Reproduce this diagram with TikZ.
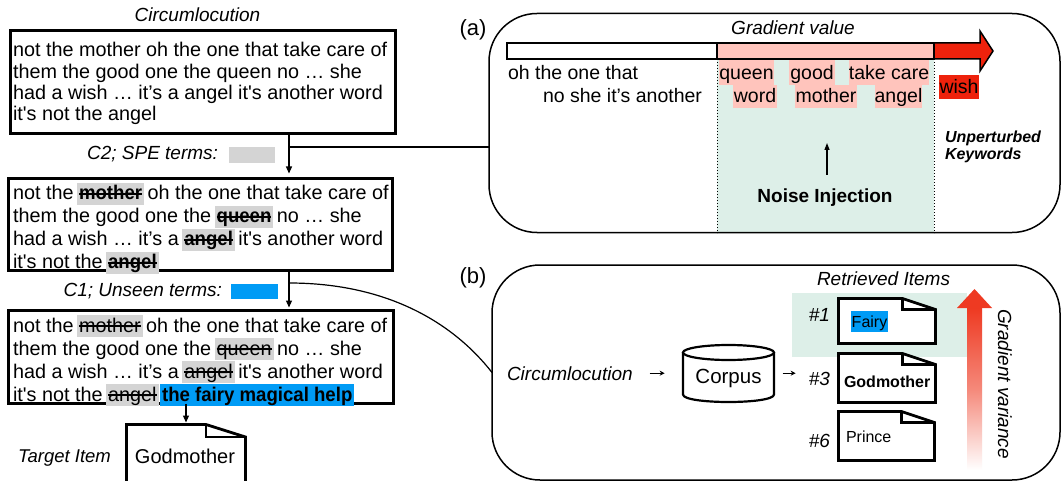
\documentclass[tikz,border=0pt]{standalone}
\usepackage{fontspec}
\usepackage{graphicx}
\setmainfont{Liberation Sans}
\usetikzlibrary{arrows.meta}
\definecolor{hlgray}{RGB}{212,212,212}
\definecolor{hlblue}{RGB}{0,155,245}
\definecolor{hlpink}{RGB}{255,196,188}
\definecolor{kwred}{RGB}{238,34,12}
\definecolor{bggreen}{RGB}{221,239,232}
\definecolor{gradred}{RGB}{238,58,34}
\newcommand\fsz[2]{\fontsize{#1}{#2}\selectfont}
\newcommand\hlw[2]{\setbox0\hbox{#2}\rlap{\hskip-2pt\textcolor{#1}{\rule[-5pt]{\dimexpr\wd0+4pt\relax}{22pt}}}\box0\relax}
\newcommand\stk[1]{\setbox2\hbox{#1}\rlap{\copy2}\rule[0.26em]{\wd2}{0.08em}}
\newcommand\nb[1]{\scalebox{0.94}[1]{\bfseries #1}}
\newcommand\sq{\textquotesingle}
\newcommand\docpath[3]{%
  \draw[docl,fill=white] (#1.south west) -- (#1.north west) -- ([xshift=-#2pt]#1.north east) -- ([yshift=-#3pt]#1.north east) -- (#1.south east) -- cycle;
  \draw[docl] ([xshift=-#2pt]#1.north east) -- ([xshift=-#2pt,yshift=-#3pt]#1.north east) -- ([yshift=-#3pt]#1.north east);}
\begin{document}
\begin{tikzpicture}[x=1pt,y=-1pt,
  every node/.style={inner sep=0pt,outer sep=0pt},
  frame/.style={draw,line width=2.8pt},
  panel/.style={draw,line width=1.5pt,rounded corners=48pt},
  conn/.style={line width=1.2pt},
  arr/.style={line width=1.2pt,-{Triangle[length=7pt,width=6pt]}},
  sarr/.style={line width=1.2pt,-{Stealth[length=5pt,width=5pt]}},
  it/.style={font=\fsz{19}{21}\itshape},
  docl/.style={line width=2.8pt,line join=miter},
  pk1/.style={anchor=base,fill=hlpink,text height=20pt,text depth=5pt,font=\fsz{19.5}{21}},
  pk2/.style={anchor=base,fill=hlpink,text height=18pt,text depth=5pt,font=\fsz{19.5}{21}},
  wordl/.style={anchor=base west,font=\fsz{19.5}{21}},
]
\clip (0,0) rectangle (1062,481);
\fill[white] (0,0) rectangle (1062,481);

% ---------------- left column ----------------
\node[it,anchor=base] (title) at (197.5,22) {Circumlocution};
\node[frame,minimum width=385pt,minimum height=103pt] (box1) at (203,82) {};
\node[anchor=base west] (txt1) at (13,57) {\parbox[t]{380pt}{\raggedright\fsz{19.8}{21.3}%
not the mother oh the one that take care of\\
them the good one the queen no … she\\
had a wish … it’s a angel it\sq s another word\\
it\sq s not the angel}};

\node[frame,minimum width=384pt,minimum height=92pt] (box2) at (200.5,224.5) {};
\node[anchor=base west] (txt2) at (13,200) {\parbox[t]{380pt}{\raggedright\fsz{19.8}{21.3}%
not the \hlw{hlgray}{\stk{\nb{mother}}} oh the one that take care of\\
them the good one the \hlw{hlgray}{\stk{\nb{queen}}} no … she\\
had a wish … it’s a \hlw{hlgray}{\stk{\nb{angel}}} it\sq s another word\\
it\sq s not the \hlw{hlgray}{\stk{\nb{angel}}}}};

\node[frame,minimum width=385pt,minimum height=93pt] (box3) at (201,357) {};
\node[anchor=base west] (txt3) at (13,332) {\parbox[t]{380pt}{\raggedright\fsz{19.8}{21.3}%
not the \hlw{hlgray}{\stk{mother}} oh the one that take care of\\
them the good one the \hlw{hlgray}{\stk{queen}} no … she\\
had a wish … it’s a \hlw{hlgray}{\stk{angel}} it\sq s another word\\
it\sq s not the \hlw{hlgray}{\stk{angel}} \hlw{hlblue}{\nb{the fairy magical help}}}};

\node[it,anchor=base east] (c2) at (218,159.5) {C2; SPE terms:};
\node[fill=hlgray,minimum width=46pt,minimum height=16pt] (sw2) at (252,155) {};
\node[it,anchor=base east] (c1) at (222,296) {C1; Unseen terms:};
\node[fill=hlblue,minimum width=47pt,minimum height=15pt] (sw1) at (254.5,291.5) {};

% target item
\node[anchor=base west,font=\fsz{18.5}{20}\itshape] (tlabel) at (18,462) {Target Item};
\node[minimum width=119pt,minimum height=76pt] (tdoc) at (186,462.5) {};
\docpath{tdoc}{39.5}{12.5}
\node[anchor=base,font=\fsz{20}{22}] (tgt) at (185,463) {Godmother};

% ---------------- panel (a) ----------------
\fill[bggreen] (717,59) rectangle (934,233);
\node[panel,minimum width=571pt,minimum height=219pt] (pa) at (774.5,123) {};
\node[font=\fsz{22}{24}] (la) at (473,30) {(a)};
\node[it,anchor=base] (gv) at (793,35) {Gradient value};
\draw[line width=1.5pt,fill=white] (507,43) rectangle (717,59);
\draw[line width=1.5pt,fill=hlpink] (717,43) rectangle (934,59);
\draw[line width=1.5pt,fill=kwred,line join=miter] (934,43) -- (980,43) -- (980,31) -- (993,51) -- (980,71) -- (980,59) -- (934,59) -- cycle;
\draw[dotted,line width=1pt] (717,59) -- (717,233);
\draw[dotted,line width=1pt] (934,59) -- (934,233);

\node[wordl] (wl1) at (508,80) {oh the one that};
\node[wordl] (wl2) at (543,103) {no she it’s another};
\node[pk1,minimum width=55pt] (wq) at (746.5,80) {queen};
\node[pk1,minimum width=46pt] (wg) at (812,80) {good};
\node[pk1,minimum width=80pt] (wt) at (889,80) {take care};
\node[pk2,minimum width=44pt] (ww) at (755,103) {word};
\node[pk2,minimum width=62pt] (wm) at (826,103) {mother};
\node[pk2,minimum width=47pt] (wa) at (898.5,103) {angel};
\node[anchor=base,fill=kwred,text height=19pt,text depth=5pt,minimum width=40pt,font=\fsz{19.5}{21}] (wish) at (959,94) {wish};
\node[anchor=base west] (unp) at (945,143) {\parbox[t]{110pt}{\raggedright\fsz{16}{17}\bfseries\itshape Unperturbed\\Keywords}};
\node[anchor=base,font=\fsz{19}{21}\bfseries] (noise) at (825,202) {Noise Injection};
\coordinate (niA) at (827,175);
\coordinate (niB) at (827,143);
\draw[line width=1.2pt,-{Triangle[length=7pt,width=5pt]}] (niA) -- (niB);

% ---------------- panel (b) ----------------
\node[panel,minimum width=568pt,minimum height=215pt] (pb) at (776,372.5) {};
\node[font=\fsz{22}{24}] (lb) at (473,278) {(b)};
\fill[bggreen] (792,293) rectangle (967,357);
\node[it,anchor=base west] (ret) at (817,285) {Retrieved Items};

\node[minimum width=97pt,minimum height=45pt] (d1) at (887,321) {};
\docpath{d1}{33}{11}
\node[minimum width=97pt,minimum height=49pt] (d3) at (887,378) {};
\docpath{d3}{33}{11}
\node[minimum width=96pt,minimum height=49pt] (d6) at (886.5,436) {};
\docpath{d6}{33}{11}

\node[anchor=base,fill=hlblue,text height=16.5pt,text depth=4.5pt,minimum width=37pt,font=\fsz{16}{18}] (fairy) at (869.5,327) {Fairy};
\node[anchor=base west,font=\fsz{16}{18}\bfseries] (godm) at (844,387) {Godmother};
\node[anchor=base west,font=\fsz{16}{18}] (prince) at (846,442) {Prince};
\node[it,anchor=base east] (n1) at (830,321) {\#1};
\node[it,anchor=base east] (n3) at (830,385) {\#3};
\node[it,anchor=base east] (n6) at (830,447) {\#6};

\shade[top color=gradred,bottom color=white,middle color=gradred!60] (967,308) rectangle (982,470);
\fill[gradred] (957,308) -- (974.5,289) -- (992,308) -- cycle;
\node[it,rotate=-90] (gvar) at (1005,384) {Gradient variance};

\node[it,anchor=base west] (circb) at (507,380) {Circumlocution};
\draw[line width=2.2pt,fill=white] (683,352.5) -- (683,394.5) .. controls (683,404.5) and (774,404.5) .. (774,394.5) -- (774,352.5);
\draw[line width=2.2pt,fill=white] (728.5,352.5) ellipse [x radius=45.5, y radius=7.5];
\node[anchor=base,font=\fsz{20.5}{22}] (corpus) at (728.5,383) {Corpus};
\draw[sarr] (circb.east) ++(17,0) -- ++(15,0);
\draw[sarr] (circb.east) ++(150,0) -- ++(13,0);

% ---------------- connectors ----------------
\coordinate (spine) at (289,0);
\coordinate (sp2) at (186,0);
\coordinate (br2) at (289,147);
\coordinate (br1) at (289,283);
\draw[arr,shorten >=5pt] (box1.south -| spine) -- (box2.north -| spine);
\draw[arr,shorten >=3pt] (box2.south -| spine) -- (box3.north -| spine);
\draw[arr,shorten >=2pt] (box3.south -| sp2) -- (tdoc.north -| sp2);
\draw[conn] (br2) -- (br2 -| pa.west);
\draw[conn] (br1) .. controls (390,283) and (455,325) .. (pb.west);
\end{tikzpicture}
\end{document}
